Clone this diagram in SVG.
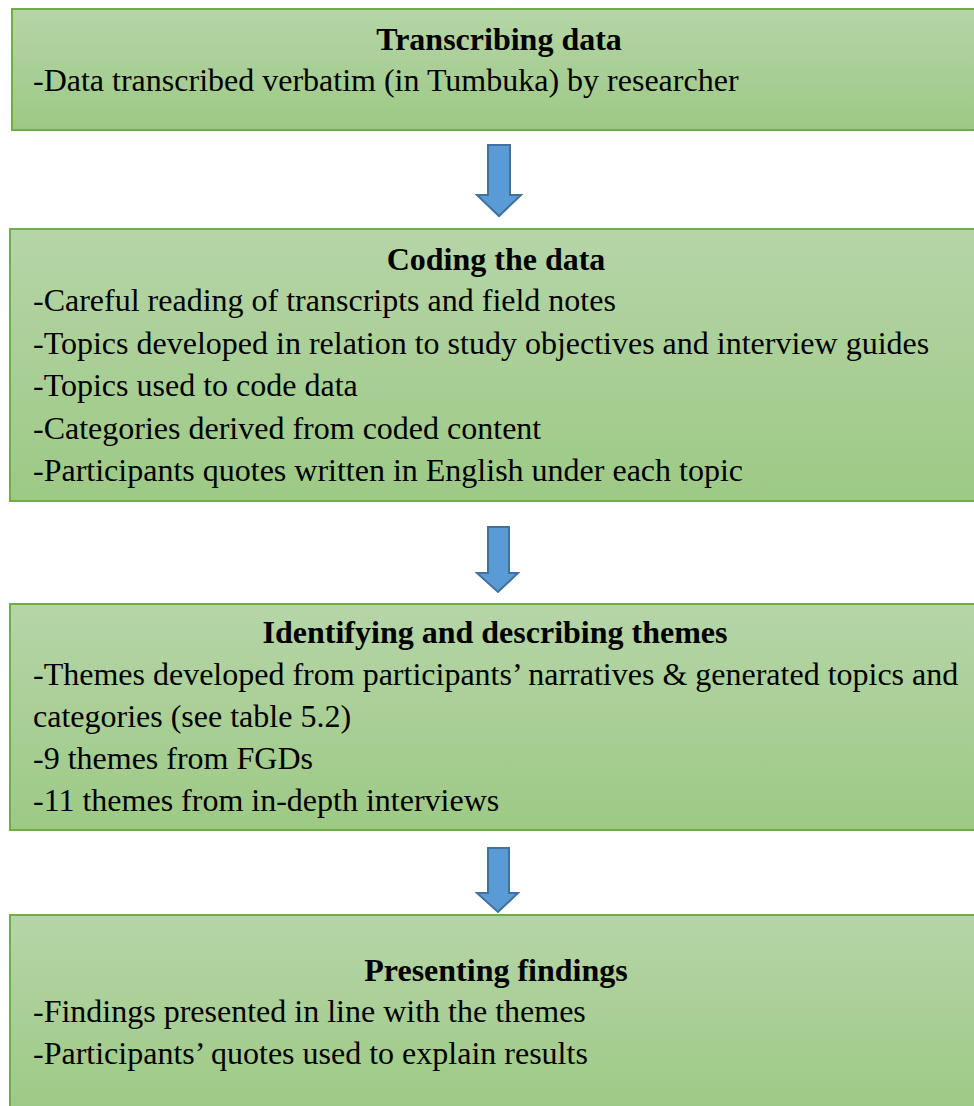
<svg xmlns="http://www.w3.org/2000/svg" width="974" height="1106" viewBox="0 0 974 1106">
<defs>
<linearGradient id="g" x1="0" y1="0" x2="0" y2="1">
<stop offset="0" stop-color="#B5D5A7"/>
<stop offset="1" stop-color="#9DC985"/>
</linearGradient>
<style>
.box{fill:url(#g);stroke:#70AD47;stroke-width:2}
.t{font-family:"Liberation Serif","Times New Roman",serif;font-size:32px;fill:#000}
.h{font-weight:bold;text-anchor:middle}
.arr{fill:#5B9BD5;stroke:#41719C;stroke-width:2;stroke-linejoin:miter}
</style>
</defs>
<g id="node-transcribing">
<rect class="box" x="12" y="9" width="975" height="121"/>
<text class="t h" x="499" y="50">Transcribing data</text>
<text class="t" x="33" y="91">-Data transcribed verbatim (in Tumbuka) by researcher</text>
</g>
<g id="node-coding">
<rect class="box" x="10" y="229" width="977" height="272"/>
<text class="t h" x="496" y="270">Coding the data</text>
<text class="t" x="33" y="311">-Careful reading of transcripts and field notes</text>
<text class="t" x="33" y="354">-Topics developed in relation to study objectives and interview guides</text>
<text class="t" x="33" y="396">-Topics used to code data</text>
<text class="t" x="33" y="439">-Categories derived from coded content</text>
<text class="t" x="33" y="481">-Participants quotes written in English under each topic</text>
</g>
<g id="node-themes">
<rect class="box" x="10" y="604" width="977" height="226"/>
<text class="t h" x="495" y="643">Identifying and describing themes</text>
<text class="t" x="33" y="685">-Themes developed from participants’ narratives &amp; generated topics and</text>
<text class="t" x="33" y="727">categories (see table 5.2)</text>
<text class="t" x="33" y="769">-9 themes from FGDs</text>
<text class="t" x="33" y="811">-11 themes from in-depth interviews</text>
</g>
<g id="node-presenting">
<rect class="box" x="10" y="915" width="977" height="200"/>
<text class="t h" x="496" y="981">Presenting findings</text>
<text class="t" x="33" y="1022">-Findings presented in line with the themes</text>
<text class="t" x="33" y="1064">-Participants’ quotes used to explain results</text>
</g>
<g id="connectors">
<path class="arr" d="M488,145 H510 V195 H521 L499,216 L477,195 H488 Z"/>
<path class="arr" d="M488,527 H509 V573 H518 L498,592 L477,573 H488 Z"/>
<path class="arr" d="M488,848 H509 V893 H518 L498,912 L477,893 H488 Z"/>
</g>
</svg>
